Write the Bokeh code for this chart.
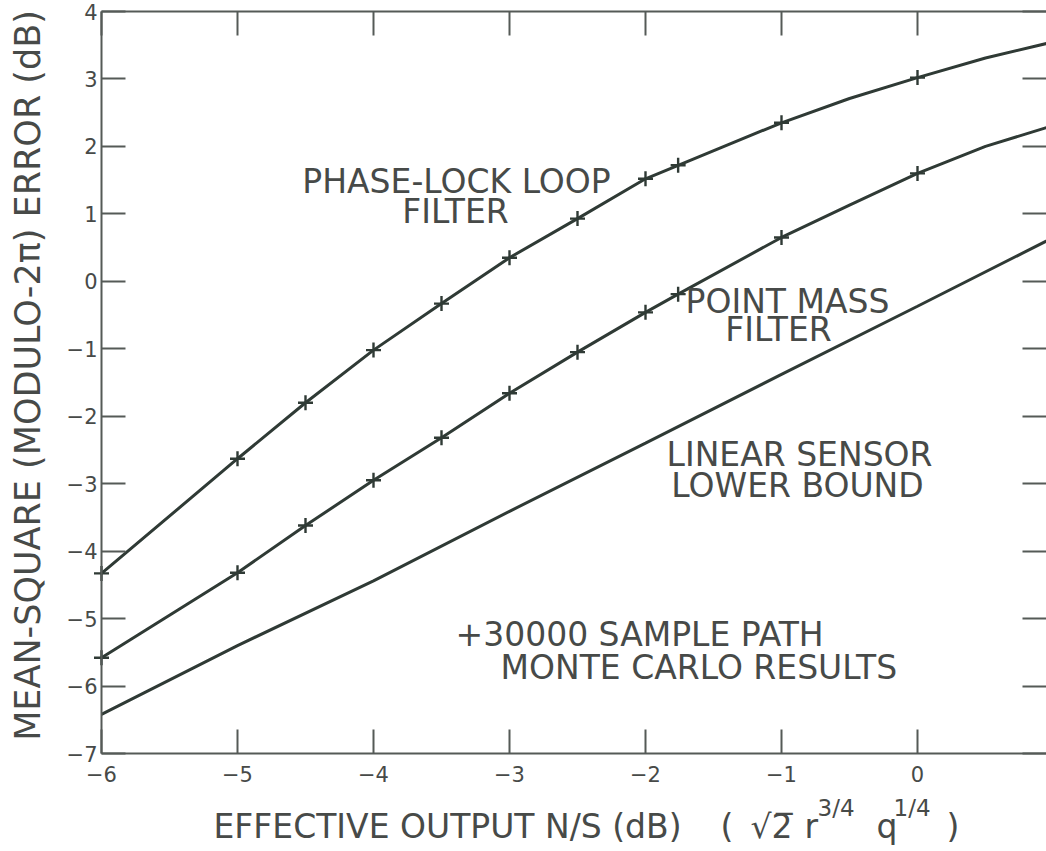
import math
from bokeh.plotting import figure
from bokeh.models import Label, LinearAxis, FixedTicker, Range1d
from bokeh.embed import file_html
from bokeh.resources import INLINE

# ---------------- data ----------------
x_ticks = [-6, -5, -4, -3, -2, -1, 0]
y_ticks = [-7, -6, -5, -4, -3, -2, -1, 0, 1, 2, 3, 4]

# Phase-lock loop filter: Monte Carlo points and curve
pll_mc_x = [-6, -5, -4.5, -4, -3.5, -3, -2.5, -2, -1.76, -1, 0]
pll_mc_y = [-4.33, -2.63, -1.80, -1.02, -0.33, 0.35, 0.93, 1.52, 1.72, 2.35, 3.02]
pll_curve_x = [-6, -5, -4.5, -4, -3.5, -3, -2.5, -2, -1.76, -1, -0.5, 0, 0.5, 1.0]
pll_curve_y = [-4.33, -2.63, -1.80, -1.02, -0.33, 0.35, 0.93, 1.52, 1.72, 2.35, 2.71, 3.02, 3.31, 3.55]

# Point mass filter: Monte Carlo points and curve
pmf_mc_x = [-6, -5, -4.5, -4, -3.5, -3, -2.5, -2, -1.76, -1, 0]
pmf_mc_y = [-5.58, -4.32, -3.62, -2.95, -2.32, -1.66, -1.05, -0.46, -0.19, 0.65, 1.60]
pmf_curve_x = [-6, -5, -4.5, -4, -3.5, -3, -2.5, -2, -1.76, -1, -0.5, 0, 0.5, 1.0]
pmf_curve_y = [-5.58, -4.32, -3.62, -2.95, -2.32, -1.66, -1.05, -0.46, -0.19, 0.65, 1.13, 1.60, 2.00, 2.31]

# Linear sensor lower bound
lsb_x = [-6, -5, -4, -3, -2, -1, 0, 1.0]
lsb_y = [-6.42, -5.40, -4.44, -3.41, -2.40, -1.38, -0.37, 0.65]

Y_TITLE = "MEAN-SQUARE (MODULO-2\u03c0) ERROR (dB)"

# ---------------- style / geometry ----------------
FONT = "DejaVu Sans"
TXT = "#474a48"
LINE = "#2f3a35"
AX = "#555a57"

W, H = 1046, 851
PX_PER_X = 136.0            # pixels per x unit; x=-6 sits at page x=101
AX_LEFT_PX = 101
TOP_PX, BOT_PX = 11, 753     # page rows of y=4 and y=-7
XA, XB = -6, 0               # data extent of the x axis
YA, YB = -7, 4               # data extent of the y axis
PX_PER_Y = (BOT_PX - TOP_PX) / (YB - YA)

X_LO = XA - AX_LEFT_PX / PX_PER_X          # canvas left edge
X_HI = XA + (W - AX_LEFT_PX) / PX_PER_X    # canvas right edge
Y_LO = YB - (H - TOP_PX) / PX_PER_Y        # canvas bottom edge
Y_HI = YB + TOP_PX / PX_PER_Y              # canvas top edge

p = figure(width=W, height=H, x_range=Range1d(X_LO, X_HI), y_range=Range1d(Y_LO, Y_HI),
           output_backend="svg", toolbar_location=None,
           min_border_left=0, min_border_right=0, min_border_top=0, min_border_bottom=0)
p.grid.visible = False
p.outline_line_color = None
p.background_fill_color = "white"
p.border_fill_color = "white"


def style_axis(ax, show_labels=True, show_line=True):
    ax.axis_line_color = AX if show_line else None
    ax.axis_line_width = 2
    ax.major_tick_in = 24
    ax.major_tick_out = 0
    ax.major_tick_line_color = AX
    ax.major_tick_line_width = 2
    ax.minor_tick_line_color = None
    ax.major_label_text_font = FONT
    if show_labels:
        ax.major_label_text_color = TXT
        ax.major_label_text_font_size = "21px"
    else:
        ax.major_label_text_color = None
        ax.major_label_text_font_size = "1px"
        ax.major_label_standoff = 0


# bottom axis, drawn at y=-7
xax = p.xaxis[0]
xax.ticker = FixedTicker(ticks=x_ticks)
style_axis(xax)
xax.major_label_standoff = 12
xax.fixed_location = YA
xax.bounds = (XA, X_HI)

# left axis, drawn at x=-6
yax = p.yaxis[0]
yax.ticker = FixedTicker(ticks=y_ticks)
style_axis(yax)
yax.major_label_standoff = 4
yax.fixed_location = XA
yax.bounds = (YA, YB)

# top axis (ticks only), drawn at y=4
top = LinearAxis(ticker=FixedTicker(ticks=x_ticks), bounds=(XA, X_HI), fixed_location=YB)
style_axis(top, show_labels=False)
p.add_layout(top, "above")

# right side ticks only
right = LinearAxis(ticker=FixedTicker(ticks=y_ticks), bounds=(YA, YB), fixed_location=X_HI)
style_axis(right, show_labels=False, show_line=False)
p.add_layout(right, "right")

# ---------------- marks ----------------
for cx, cy in ((pll_curve_x, pll_curve_y), (pmf_curve_x, pmf_curve_y), (lsb_x, lsb_y)):
    p.line(cx, cy, line_color=LINE, line_width=3)
for mx, my in ((pll_mc_x, pll_mc_y), (pmf_mc_x, pmf_mc_y)):
    p.scatter(mx, my, marker="cross", size=15, line_color=LINE, line_width=2.4)


# ---------------- texts ----------------
def px2x(px):
    return XA + (px - AX_LEFT_PX) / PX_PER_X


def py2y(py):
    return YB - (py - TOP_PX) / PX_PER_Y


BASE_SHIFT = 0.34   # rendered baseline sits about this many em below the anchor


def add_text(txt, px, py, size=33, align="center", vertical=False):
    shift = BASE_SHIFT * size
    if vertical:
        px, py, angle = px - shift, py, math.pi / 2
    else:
        px, py, angle = px, py - shift, 0.0
    p.add_layout(Label(x=px2x(px), y=py2y(py), text=txt, text_font=FONT, text_font_size="%dpx" % size,
                       text_color=TXT, text_align=align, text_baseline="alphabetic", angle=angle))


# axis titles (baselines at reference page pixels)
add_text(Y_TITLE, 39, 375, size=35, vertical=True)
add_text("EFFECTIVE OUTPUT  N/S (dB)", 213, 837, align="left")
add_text("(", 720, 837, align="left")
add_text("\u221a", 750, 837, align="left")
add_text("2\u0305", 771, 837, align="left")
add_text("r", 804, 837, align="left")
add_text("3/4", 817, 815, size=23, align="left")
add_text("q", 876, 837, align="left")
add_text("1/4", 893, 815, size=23, align="left")
add_text(")", 946, 837, align="left")

# curve annotations
add_text("PHASE-LOCK LOOP", 456, 192)
add_text("FILTER", 455, 222)
add_text("POINT MASS", 787, 312)
add_text("FILTER", 778, 340)
add_text("LINEAR SENSOR", 799, 465)
add_text("LOWER BOUND", 797, 496)
add_text("+30000 SAMPLE PATH", 455, 645, align="left")
add_text("MONTE CARLO RESULTS", 500, 678, align="left")

open("out.html", "w").write(file_html(p, INLINE))
